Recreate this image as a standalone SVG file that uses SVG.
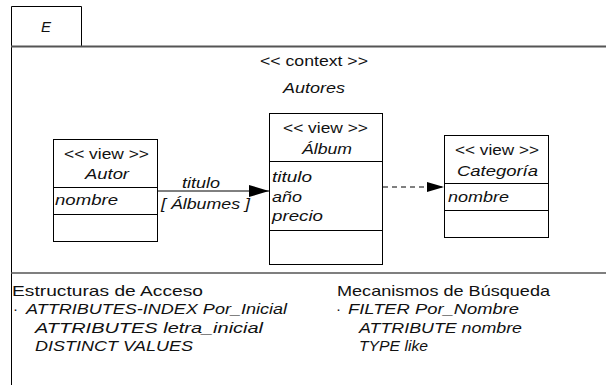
<svg xmlns="http://www.w3.org/2000/svg" width="606" height="385" viewBox="0 0 606 385">
<style>
text{font-family:"Liberation Sans",Arial,sans-serif;font-size:15px;fill:#111}
.i{font-style:italic}
.box{fill:#fff;stroke:#000;stroke-width:1}
.sep{stroke:#000;stroke-width:1}
.frame{stroke:#555;stroke-width:2;fill:none}
.conn{stroke:#000;stroke-width:1;fill:none}
</style>
<defs>
<marker id="tri" viewBox="0 0 20 12" refX="20" refY="6" markerWidth="20" markerHeight="12" markerUnits="userSpaceOnUse" orient="auto">
<path d="M0,0 L20,6 L0,12 Z" fill="#000"/>
</marker>
<marker id="tri2" viewBox="0 0 17 10" refX="17" refY="5" markerWidth="17" markerHeight="10" markerUnits="userSpaceOnUse" orient="auto">
<path d="M0,0 L17,5 L0,10 Z" fill="#000"/>
</marker>
</defs>
<rect width="606" height="385" fill="#fff"/>
<g id="frame">
<path d="M11.5,46 V6.5 H81.5 V46" fill="none" stroke="#000" stroke-width="1"/>
<line x1="11.5" y1="46" x2="11.5" y2="385" stroke="#000" stroke-width="1"/>
<line x1="11" y1="46.5" x2="606" y2="46.5" class="frame"/>
<line x1="11" y1="273" x2="606" y2="273" stroke="#555" stroke-width="1.5"/>
<text x="41" y="32" class="i">E</text>
<text x="260" y="66" textLength="108" lengthAdjust="spacingAndGlyphs">&lt;&lt; context &gt;&gt;</text>
<text x="283" y="93" class="i" textLength="62" lengthAdjust="spacingAndGlyphs">Autores</text>
</g>
<g id="connectors">
<line x1="158" y1="191" x2="269" y2="191" class="conn" marker-end="url(#tri)"/>
<text x="182" y="188" class="i" textLength="38" lengthAdjust="spacingAndGlyphs">titulo</text>
<text x="161" y="209" class="i" textLength="89" lengthAdjust="spacingAndGlyphs">[ Álbumes ]</text>
<line x1="383" y1="187" x2="444" y2="187" class="conn" stroke-dasharray="5,4" marker-end="url(#tri2)"/>
</g>
<g id="autor">
<rect x="53.5" y="139.5" width="104" height="102" class="box"/>
<line x1="53.5" y1="187.5" x2="157.5" y2="187.5" class="sep"/>
<line x1="53.5" y1="214.5" x2="157.5" y2="214.5" class="sep"/>
<text x="64" y="159" textLength="85" lengthAdjust="spacingAndGlyphs">&lt;&lt; view &gt;&gt;</text>
<text x="85" y="179" class="i" textLength="44" lengthAdjust="spacingAndGlyphs">Autor</text>
<text x="55" y="205" class="i" textLength="63" lengthAdjust="spacingAndGlyphs">nombre</text>
</g>
<g id="album">
<rect x="269.5" y="113.5" width="113" height="151" class="box"/>
<line x1="269.5" y1="161.5" x2="382.5" y2="161.5" class="sep"/>
<line x1="269.5" y1="230.5" x2="382.5" y2="230.5" class="sep"/>
<text x="283" y="133" textLength="85" lengthAdjust="spacingAndGlyphs">&lt;&lt; view &gt;&gt;</text>
<text x="302" y="154" class="i" textLength="50" lengthAdjust="spacingAndGlyphs">Álbum</text>
<text x="272" y="182" class="i" textLength="40" lengthAdjust="spacingAndGlyphs">titulo</text>
<text x="272" y="202" class="i" textLength="30" lengthAdjust="spacingAndGlyphs">año</text>
<text x="272" y="221" class="i" textLength="51" lengthAdjust="spacingAndGlyphs">precio</text>
</g>
<g id="categoria">
<rect x="444.5" y="135.5" width="104" height="102" class="box"/>
<line x1="444.5" y1="183.5" x2="548.5" y2="183.5" class="sep"/>
<line x1="444.5" y1="210.5" x2="548.5" y2="210.5" class="sep"/>
<text x="455" y="155" textLength="84" lengthAdjust="spacingAndGlyphs">&lt;&lt; view &gt;&gt;</text>
<text x="457" y="176" class="i" textLength="81" lengthAdjust="spacingAndGlyphs">Categoría</text>
<text x="448" y="202" class="i" textLength="61" lengthAdjust="spacingAndGlyphs">nombre</text>
</g>
<g id="acceso">
<text x="12" y="296" textLength="191" lengthAdjust="spacingAndGlyphs">Estructuras de Acceso</text>
<text x="13" y="314">·</text>
<text x="26" y="314" class="i" textLength="261" lengthAdjust="spacingAndGlyphs">ATTRIBUTES-INDEX Por_Inicial</text>
<text x="35" y="333" class="i" textLength="228" lengthAdjust="spacingAndGlyphs">ATTRIBUTES letra_inicial</text>
<text x="35" y="351" class="i" textLength="158" lengthAdjust="spacingAndGlyphs">DISTINCT VALUES</text>
</g>
<g id="busqueda">
<text x="337" y="296" textLength="213" lengthAdjust="spacingAndGlyphs">Mecanismos de Búsqueda</text>
<text x="336" y="314">·</text>
<text x="348" y="314" class="i" textLength="171" lengthAdjust="spacingAndGlyphs">FILTER Por_Nombre</text>
<text x="359" y="333" class="i" textLength="163" lengthAdjust="spacingAndGlyphs">ATTRIBUTE nombre</text>
<text x="359" y="351" class="i" textLength="69" lengthAdjust="spacingAndGlyphs">TYPE like</text>
</g>
</svg>
